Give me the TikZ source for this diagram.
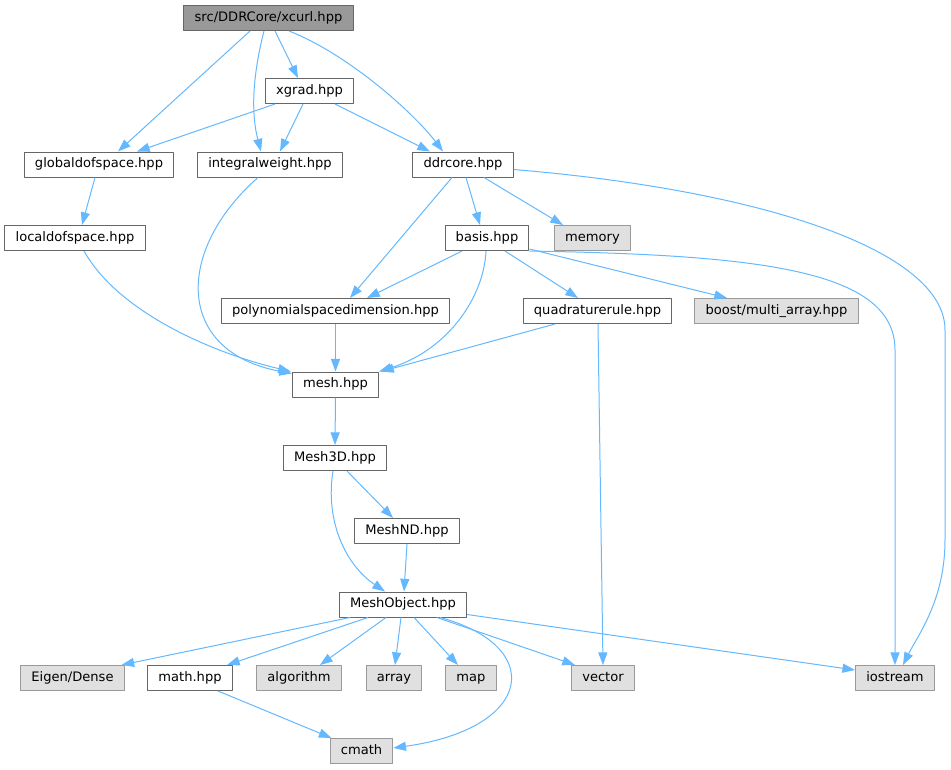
\documentclass[tikz,border=0pt]{standalone}
\usepackage{fontspec}
\setmainfont{DejaVu Sans}
\usetikzlibrary{arrows.meta,calc}
\definecolor{edgeblue}{HTML}{63B8FF}
\definecolor{boxgray}{HTML}{666666}
\definecolor{sysgray}{HTML}{999999}
\definecolor{sysfill}{HTML}{E0E0E0}

\begin{document}
\begin{tikzpicture}[x=0.75pt, y=-0.75pt, line join=round,
    file/.style={draw=boxgray, fill=white, line width=0.75pt, minimum height=18.75pt,
      inner xsep=8pt, inner ysep=0pt, text height=7.4pt, text depth=2.2pt,
      font=\fontsize{9.8}{11}\selectfont},
    sys/.style={file, draw=sysgray, fill=sysfill},
    root/.style={file, fill=sysgray},
    dep/.style={draw=edgeblue, line width=0.75pt, -{Triangle[length=9.5pt, width=6.8pt]}}]
                \useasboundingbox (0,0) rectangle (951,769);
                % headers of the project
                \node[root] (xcurl) at (268.5,18) {src/DDRCore/xcurl.hpp};
                \node[file] (xgrad) at (309.5,91) {xgrad.hpp};
                \node[file] (gdof) at (99,164.5) {globaldofspace.hpp};
                \node[file] (iw) at (270,164.5) {integralweight.hpp};
                \node[file] (ddr) at (463,164.5) {ddrcore.hpp};
                \node[file] (ldof) at (75,238) {localdofspace.hpp};
                \node[file] (basis) at (487,238) {basis.hpp};
                \node[file] (poly) at (335.5,311) {polynomialspacedimension.hpp};
                \node[file] (quad) at (597.5,311) {quadraturerule.hpp};
                \node[file] (mesh) at (335.5,384.5) {mesh.hpp};
                \node[file] (mthree) at (335,458) {Mesh3D.hpp};
                \node[file] (mnd) at (407,531) {MeshND.hpp};
                \node[file] (mobj) at (403,604.5) {MeshObject.hpp};
                \node[file] (math) at (190,678) {math.hpp};
                % system headers
                \node[sys] (memory) at (592.5,238) {memory};
                \node[sys] (boost) at (776.5,311) {boost/multi\_array.hpp};
                \node[sys] (eigen) at (72.5,678) {Eigen/Dense};
                \foreach \name/\xc/\yc in {algorithm/299/678, array/394/678, map/471/678,
                    vector/603/678, iostream/895/678, cmath/361.5/751}
                    \node[sys] (\name) at (\xc,\yc) {\name};
                % xcurl and xgrad
                \draw[dep] ($(xcurl.south)+(-18.5,0)$) -- ($(gdof.north)+(19,0)$);
                \draw[dep] ($(xcurl.south)+(-4.5,0)$) .. controls +(-10,39) and +(-11,-42) .. ($(iw.north)+(-9,0)$);
                \draw[dep] ($(xcurl.south)+(6.5,0)$) -- ($(xgrad.north)+(-11.5,0)$);
                \draw[dep] ($(xcurl.south)+(20.5,0)$) .. controls +(61,24) and +(-28,-37) .. ($(ddr.north)+(-20,0)$);
                \draw[dep] ($(xgrad.south)+(-34.5,0)$) -- ($(gdof.north)+(38,0)$);
                \draw[dep] ($(xgrad.south)+(-6.5,0)$) -- ($(iw.north)+(10,0)$);
                \draw[dep] ($(xgrad.south)+(25.5,0)$) -- ($(ddr.north)+(-33,0)$);
                % left column
                \draw[dep] ($(gdof.south)+(-4,0)$) -- ($(ldof.north)+(7,0)$);
                \draw[dep] ($(iw.south)+(-12,0)$) .. controls +(-83,73) and +(-117,-22) .. ($(mesh.north west)+(0,2)$);
                \draw[dep] ($(ldof.south)+(9,0)$) .. controls +(36,64) and +(-72,-17) .. ($(mesh.north west)+(-1,0)$);
                % ddrcore
                \draw[dep] ($(ddr.south)+(-11,0)$) -- ($(poly.north)+(14.5,0)$);
                \draw[dep] ($(ddr.south)+(3,0)$) -- ($(basis.north)+(-7,0)$);
                \draw[dep] ($(ddr.south)+(21,0)$) -- ($(memory.north)+(-29.5,0)$);
                \draw[dep] ($(ddr.east)+(0,5)$) .. controls (760,190) and (945,250) .. (945,330)
                    -- (945,540) .. controls (945,600) and (918,635) .. ($(iostream.north)+(8,0)$);
                % basis
                \draw[dep] ($(basis.south)+(-25,0)$) -- ($(poly.north)+(31.5,0)$);
                \draw[dep] ($(basis.south)+(-1,0)$) .. controls +(-2,45) and +(70,-22) .. (mesh.north east);
                \draw[dep] ($(basis.south)+(18,0)$) -- ($(quad.north)+(-19.5,0)$);
                \draw[dep] ($(basis.south east)+(0,-2)$) -- ($(boost.north)+(-49.5,0)$);
                \draw[dep] (basis.south east) .. controls (760,255) and (895,270) .. (895,350) -- (iostream.north);
                % mesh chain
                \draw[dep] (poly.south) -- (mesh.north);
                \draw[dep] ($(quad.south)+(-42.5,0)$) -- ($(mesh.north east)+(2,0)$);
                \draw[dep] ($(quad.south)+(0.5,0)$) -- (vector.north);
                \draw[dep] (mesh.south) -- (mthree.north);
                \draw[dep] ($(mthree.south)+(12,0)$) -- ($(mnd.north)+(-14,0)$);
                \draw[dep] ($(mthree.south)+(-2,0)$) .. controls +(-8,49) and +(-40,-27) .. ($(mobj.north)+(-18,0)$);
                \draw[dep] (mnd.south) -- ($(mobj.north)+(1,0)$);
                % MeshObject
                \foreach \tgt/\dx/\ex in {eigen/-53/49, math/-35/37, algorithm/-17/21, array/-2/1,
                    map/11/-13, vector/34/-28}
                    \draw[dep] ($(mobj.south)+(\dx,0)$) -- ($(\tgt.north)+(\ex,0)$);
                \draw[dep] ($(mobj.south east)+(0,-3)$) -- ($(iostream.west)+(0,-8)$);
                \draw[dep] ($(mobj.south)+(37,0)$) .. controls +(105,28) and +(142,-20) .. ($(cmath.east)+(0,-3)$);
                \draw[dep] ($(math.south)+(28,0)$) -- ($(cmath.north)+(-30,0)$);
            \end{tikzpicture}
\end{document}
